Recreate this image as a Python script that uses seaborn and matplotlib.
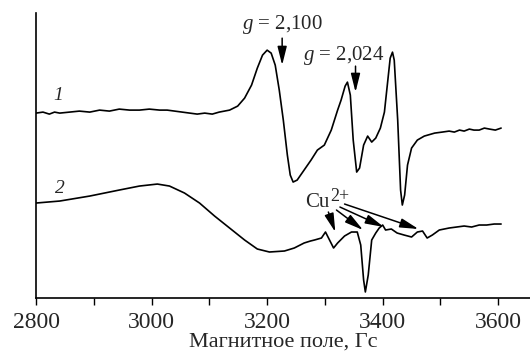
import numpy as np
import pandas as pd
import matplotlib
matplotlib.use("Agg")
import matplotlib.pyplot as plt
import seaborn as sns

# ---- data (magnetic field, Gs; intensity in arbitrary units) ----
field_1 = [2800, 2812, 2823, 2832, 2841, 2858, 2875, 2893, 2910, 2927, 2944, 2962, 2979, 2996,
           3014, 3027, 3040, 3053, 3066, 3079, 3092, 3105, 3117, 3135, 3149, 3161, 3173, 3183,
           3192, 3200, 3207, 3214, 3221, 3228, 3235, 3240, 3245, 3252, 3264, 3276, 3287, 3299,
           3311, 3322, 3328, 3335, 3339, 3344, 3349, 3355, 3360, 3367, 3374, 3381, 3388, 3396,
           3403, 3408, 3413, 3417, 3420, 3426, 3431, 3434, 3438, 3443, 3450, 3460, 3472, 3490,
           3503, 3515, 3524, 3533, 3541, 3550, 3558, 3567, 3576, 3585, 3595, 3605]
signal_1 = [185, 186, 184, 186, 185, 186, 187, 186, 188, 187, 189, 188, 188, 189,
            188, 188, 187, 186, 185, 184, 185, 184, 186, 188, 192, 200, 213, 230,
            243, 248, 245, 233, 208, 178, 143, 123, 116, 118, 128, 138, 148, 153,
            168, 188, 198, 212, 216, 203, 158, 126, 130, 153, 162, 156, 160, 170,
            186, 213, 240, 246, 238, 178, 108, 93, 103, 133, 150, 158, 162, 165,
            166, 167, 166, 168, 167, 169, 168, 168, 170, 169, 168, 170]

field_2 = [2800, 2841, 2893, 2944, 2979, 3010, 3031, 3057, 3083, 3109, 3135, 3161, 3183, 3204,
           3230, 3247, 3264, 3275, 3282, 3294, 3301, 3308, 3315, 3322, 3334, 3346, 3356, 3362,
           3367, 3370, 3375, 3381, 3388, 3394, 3400, 3405, 3415, 3425, 3437, 3450, 3460, 3469,
           3477, 3486, 3498, 3515, 3528, 3541, 3554, 3567, 3580, 3593, 3605]
signal_2 = [95, 97, 102, 108, 112, 114, 112, 105, 95, 82, 70, 58, 49, 46,
            47, 50, 55, 57, 58, 60, 66, 58, 50, 55, 62, 66, 66, 53,
            18, 6, 23, 58, 65, 70, 73, 68, 69, 65, 63, 61, 66, 67,
            60, 63, 68, 70, 71, 72, 71, 73, 73, 74, 74]

curve_labels = ["1", "2"]
x_ticks = [2800, 3000, 3200, 3400, 3600]
x_label = "Магнитное поле, Гс"

df = pd.concat([
    pd.DataFrame({"field": field_1, "signal": signal_1, "curve": curve_labels[0]}),
    pd.DataFrame({"field": field_2, "signal": signal_2, "curve": curve_labels[1]}),
])

# ---- style ----
sns.set_theme(style="ticks")
plt.rcParams["font.family"] = ["Liberation Serif", "DejaVu Serif"]
plt.rcParams["mathtext.fontset"] = "custom"
plt.rcParams["mathtext.rm"] = "Liberation Serif"
plt.rcParams["mathtext.it"] = "Liberation Serif:italic"

fig = plt.figure(figsize=(5.30, 3.56), dpi=100)
ax = fig.add_axes([0.068, 0.163, 0.932, 0.800])

sns.lineplot(data=df, x="field", y="signal", hue="curve", units="curve",
             estimator=None, sort=False, palette=["black", "black"],
             linewidth=1.2, legend=False, ax=ax)

ax.set_xlim(2800, 3655)
ax.set_ylim(0, 285)
ax.set_xticks(x_ticks)
ax.set_xticks([2900, 3100, 3300, 3500], minor=True)
ax.set_yticks([])
ax.set_xlabel(x_label, fontsize=16, labelpad=0)
ax.set_ylabel("")
ax.tick_params(axis="x", which="both", direction="out", length=5, width=1.0,
               labelsize=17, color="black", pad=5)
for s in ["top", "right"]:
    ax.spines[s].set_visible(False)
for s in ["left", "bottom"]:
    ax.spines[s].set_linewidth(1.2)
    ax.spines[s].set_color("black")

# curve numbers
ax.text(2838, 203, "1", fontsize=14, style="italic", ha="center", va="center")
ax.text(2841, 110, "2", fontsize=14, style="italic", ha="center", va="center")

arrow_kw = dict(arrowstyle="-|>,head_length=0.8,head_width=0.2", color="black",
                lw=1.1, mutation_scale=14, shrinkA=0, shrinkB=0)

# g-factor annotations
ax.text(3226, 274, r"$g$ = 2,100", fontsize=15, ha="center", va="center")
ax.annotate("", xy=(3226, 233), xytext=(3226, 260), arrowprops=arrow_kw)
ax.text(3332, 243, r"$g$ = 2,024", fontsize=15, ha="center", va="center")
ax.annotate("", xy=(3353, 206), xytext=(3353, 232), arrowprops=arrow_kw)

# Cu2+ annotation
ax.text(3308, 96, "Cu", fontsize=15, ha="right", va="center")
ax.text(3309, 102, "2+", fontsize=13, ha="left", va="center")
for (tx, ty, hx, hy) in [(3306, 86, 3318, 66), (3320, 88, 3366, 68),
                         (3326, 91, 3402, 71), (3334, 94, 3462, 69)]:
    ax.annotate("", xy=(hx, hy), xytext=(tx, ty), arrowprops=arrow_kw)

fig.savefig("out.png", dpi=100)
